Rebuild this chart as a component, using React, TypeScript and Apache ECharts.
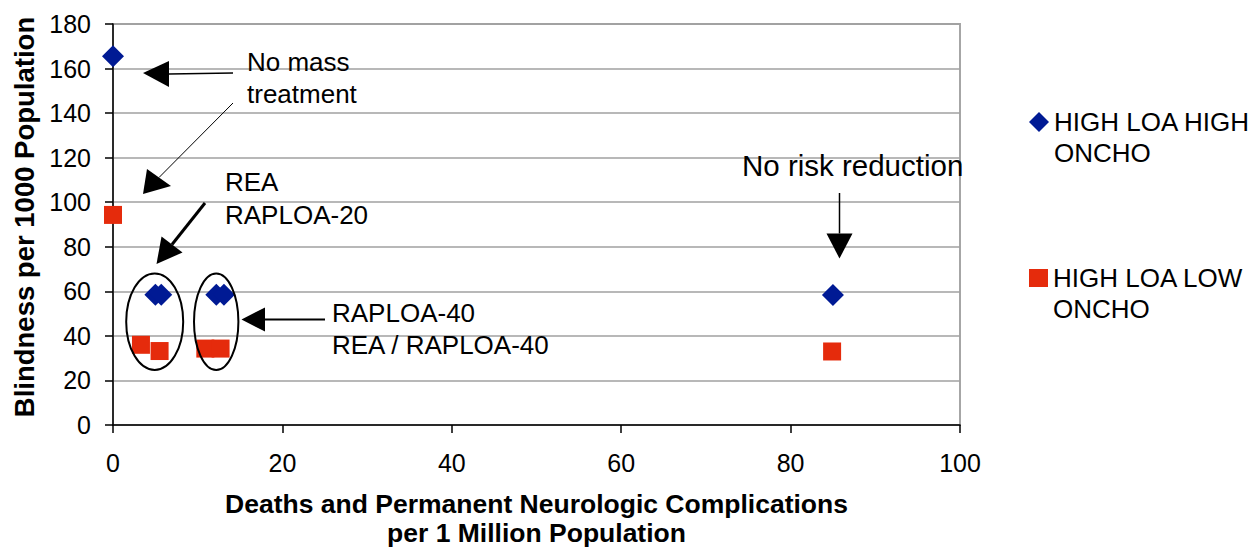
import React, { useEffect, useRef } from "react";
import * as echarts from "echarts";

const seriesNames = ["HIGH LOA HIGH ONCHO", "HIGH LOA LOW ONCHO"];
const highHighX = [0, 5.0, 5.7, 12.2, 13.1, 85.0];
const highHighY = [165.5, 58.5, 58.5, 58.5, 58.5, 58.3];
const highLowX = [0, 3.3, 5.5, 10.9, 12.7, 84.9];
const highLowY = [94.3, 36.0, 33.2, 34.3, 34.3, 33.0];
const xTicks = { min: 0, max: 100, interval: 20 };
const yTicks = { min: 0, max: 180, interval: 20 };

const FONT = "Liberation Sans, Arial, sans-serif";
const BLUE = "#001a94";
const RED = "#e52b0c";

function pairs(xs: number[], ys: number[]) {
  return xs.map((x, i) => [x, ys[i]]);
}

function arrow(x1: number, y1: number, tip: number[], b1: number[], b2: number[], w: number) {
  const bx = (b1[0] + b2[0]) / 2;
  const by = (b1[1] + b2[1]) / 2;
  return [
    { type: "line", shape: { x1, y1, x2: bx, y2: by }, style: { stroke: "#000", lineWidth: w }, z: 100 },
    { type: "polygon", shape: { points: [tip, b1, b2] }, style: { fill: "#000" }, z: 100 },
  ];
}

function label(text: string, x: number, y: number, size = 26) {
  return {
    type: "text",
    x,
    y,
    z: 100,
    style: { text, fill: "#000", font: `${size}px ${FONT}`, textVerticalAlign: "middle", textAlign: "left" },
  };
}

export default function App() {
  const ref = useRef<HTMLDivElement>(null);
  useEffect(() => {
    document.body.style.margin = "0";
    const chart = echarts.init(ref.current!, undefined, { renderer: "svg" });
    const legendBase = {
      orient: "vertical",
      left: 1029,
      padding: 0,
      selectedMode: false,
      formatter: (n: string) => "\n" + n.replace(/ (ONCHO)$/, "\n$1"),
      textStyle: { fontFamily: FONT, fontSize: 26, color: "#000", lineHeight: 31 },
    };
    chart.setOption({
      animation: false,
      backgroundColor: "#fff",
      grid: {
        left: 113,
        right: 297,
        top: 24,
        bottom: 123,
        show: true,
        borderColor: "#a6a6a6",
        borderWidth: 2,
        containLabel: false,
        outerBoundsMode: "none",
      },
      legend: [
        { ...legendBase, top: 75.5, itemWidth: 20, itemHeight: 20, data: [seriesNames[0]] },
        { ...legendBase, top: 231.5, itemWidth: 19, itemHeight: 18, data: [seriesNames[1]] },
      ],
      xAxis: {
        type: "value",
        min: xTicks.min,
        max: xTicks.max,
        interval: xTicks.interval,
        name: "Deaths and Permanent Neurologic Complications\nper 1 Million Population",
        nameLocation: "middle",
        nameGap: 64,
        nameTextStyle: { fontFamily: FONT, fontSize: 26.5, fontWeight: "bold", color: "#000", lineHeight: 29 },
        axisLine: { show: true, lineStyle: { color: "#000", width: 1.5 } },
        axisTick: { show: true, length: 8, lineStyle: { color: "#000", width: 1.5 } },
        axisLabel: { fontFamily: FONT, fontSize: 25, color: "#000", margin: 25 },
        splitLine: { show: false },
      },
      yAxis: {
        type: "value",
        min: yTicks.min,
        max: yTicks.max,
        interval: yTicks.interval,
        name: "Blindness per 1000 Population",
        nameLocation: "middle",
        nameGap: 70,
        nameTextStyle: { fontFamily: FONT, fontSize: 27.5, fontWeight: "bold", color: "#000", padding: [0, 0, 0, 15] },
        axisLine: { show: true, lineStyle: { color: "#000", width: 1.5 } },
        axisTick: { show: true, length: 8, lineStyle: { color: "#000", width: 1.5 } },
        axisLabel: { fontFamily: FONT, fontSize: 25, color: "#000", margin: 22 },
        splitLine: { show: true, lineStyle: { color: "#a0a0a0", width: 1.5 } },
      },
      series: [
        {
          name: seriesNames[0],
          type: "scatter",
          symbol: "diamond",
          symbolSize: 22,
          itemStyle: { color: BLUE, opacity: 1 },
          data: pairs(highHighX, highHighY),
          z: 3,
        },
        {
          name: seriesNames[1],
          type: "scatter",
          symbol: "rect",
          symbolSize: 18,
          itemStyle: { color: RED, opacity: 1 },
          data: pairs(highLowX, highLowY),
          z: 2,
        },
      ],
      graphic: [
        label("No mass", 247, 62),
        label("treatment", 247, 94),
        label("REA", 225, 182),
        label("RAPLOA-20", 225, 215),
        label("RAPLOA-40", 332, 313),
        label("REA / RAPLOA-40", 332, 345),
        label("No risk reduction", 742, 165, 29.5),
        ...arrow(233, 73, [143, 73], [169, 61], [169, 87], 1.5),
        ...arrow(233, 103, [143, 194], [147, 169], [171, 186], 1),
        ...arrow(205, 203, [156.5, 264], [161.5, 236.5], [182.5, 252.5], 3),
        ...arrow(325, 319.5, [241.5, 319.5], [265, 307.5], [265, 331.5], 2),
        ...arrow(839.5, 193, [839.5, 258.5], [826.5, 233.5], [852.5, 233.5], 1.5),
        { type: "ellipse", shape: { cx: 154.7, cy: 321.7, rx: 28.5, ry: 48.3 }, style: { fill: "none", stroke: "#000", lineWidth: 2 }, z: 100 },
        { type: "ellipse", shape: { cx: 216.2, cy: 321.7, rx: 22.2, ry: 48.3 }, style: { fill: "none", stroke: "#000", lineWidth: 2 }, z: 100 },
      ],
    });
    return () => chart.dispose();
  }, []);
  return <div ref={ref} style={{ width: 1257, height: 548 }} />;
}
